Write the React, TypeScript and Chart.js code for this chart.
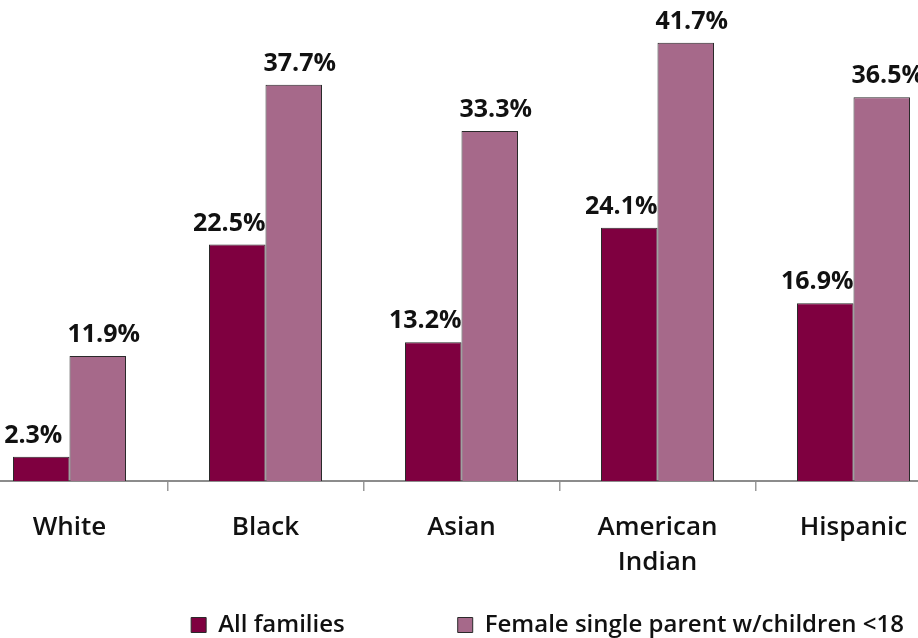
import React, { useEffect, useRef } from "react";
import { Chart, registerables } from "chart.js";

Chart.register(...registerables);

const categories: (string | string[])[] = ["White", "Black", "Asian", ["American", "Indian"], "Hispanic"];
const allFamilies = [2.3, 22.5, 13.2, 24.1, 16.9];
const femaleSingleParent = [11.9, 37.7, 33.3, 41.7, 36.5];
const seriesNames = ["All families", "Female single parent w/children <18"];
const seriesColors = ["#7F0040", "#A6698A"];

const FONT = "'Open Sans', 'Liberation Sans', sans-serif";

const valueLabels = {
  id: "valueLabels",
  afterDatasetsDraw(chart: any) {
    const ctx = chart.ctx;
    ctx.save();
    ctx.font = `700 25px ${FONT}`;
    ctx.fillStyle = "#111";
    ctx.textAlign = "center";
    ctx.textBaseline = "alphabetic";
    chart.data.datasets.forEach((ds: any, di: number) => {
      const meta = chart.getDatasetMeta(di);
      meta.data.forEach((el: any, i: number) => {
        const shift = di === 0 ? -8 : 6;
        ctx.fillText(`${ds.data[i].toFixed(1)}%`, el.x + shift, el.y - 14);
      });
    });
    ctx.restore();
  },
};

export default function App() {
  const ref = useRef<HTMLCanvasElement | null>(null);

  useEffect(() => {
    if (!ref.current) return;
    const chart = new Chart(ref.current, {
      type: "bar",
      data: {
        labels: categories,
        datasets: [
          {
            label: seriesNames[0],
            data: allFamilies,
            backgroundColor: seriesColors[0],
            borderColor: "#2a2a2a",
            borderWidth: 1,
          },
          {
            label: seriesNames[1],
            data: femaleSingleParent,
            backgroundColor: seriesColors[1],
            borderColor: "#2a2a2a",
            borderWidth: 1,
          },
        ],
      },
      options: {
        animation: false,
        responsive: true,
        maintainAspectRatio: false,
        devicePixelRatio: 1,
        layout: { padding: { left: 11.5, right: 1.5, top: 8, bottom: 0 } },
        datasets: { bar: { categoryPercentage: 0.5765, barPercentage: 1 } },
        font: { family: FONT },
        scales: {
          x: {
            grid: {
              display: true,
              drawOnChartArea: false,
              drawTicks: true,
              tickLength: 10,
              color: "#9a9a9a",
              lineWidth: 1.5,
              offset: true,
            },
            border: { display: true, color: "#8c8c8c", width: 2 },
            ticks: {
              font: { family: FONT, size: 26, weight: 600, lineHeight: 1.35 },
              color: "#111",
              mirror: true,
              padding: -64,
              maxRotation: 0,
              autoSkip: false,
            },
            afterFit: (s: any) => {
              s.height = 19;
            },
          },
          y: {
            position: "right",
            min: 0,
            max: 45,
            ticks: { display: false },
            grid: { display: false },
            border: { display: false },
            afterFit: (s: any) => {
              s.width = 172;
            },
          },
        },
        plugins: {
          legend: {
            position: "bottom",
            labels: {
              boxWidth: 15,
              boxHeight: 15,
              padding: 113,
              color: "#111",
              font: { family: FONT, size: 24, weight: 600 },
            },
          },
          tooltip: { enabled: false },
        },
      },
      plugins: [valueLabels],
    });
    return () => chart.destroy();
  }, []);

  return (
    <div
      style={{
        position: "absolute",
        left: 0,
        top: 0,
        width: 918,
        height: 638,
        overflow: "hidden",
        background: "#fff",
      }}
    >
      <div style={{ position: "absolute", left: -40, top: 0, width: 1165, height: 647 }}>
        <canvas ref={ref} />
      </div>
    </div>
  );
}
